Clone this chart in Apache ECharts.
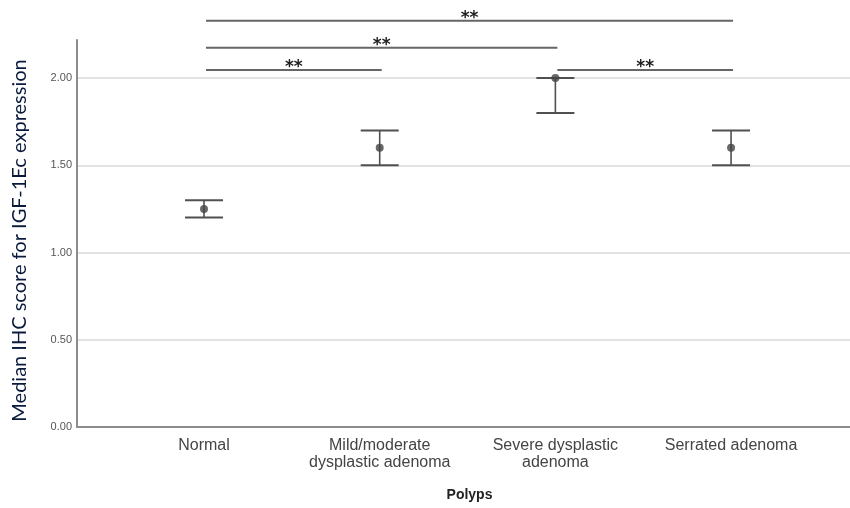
<!DOCTYPE html>
<html>
<head>
<meta charset="utf-8">
<script src="https://cdn.jsdelivr.net/npm/echarts@6/dist/echarts.min.js"></script>
<style>html,body{margin:0;padding:0;background:#fff;}#c{width:850px;height:508px;}</style>
</head>
<body>
<div id="c"></div>
<script>
const categories = ['Normal', 'Mild/moderate\ndysplastic adenoma', 'Severe dysplastic\nadenoma', 'Serrated adenoma'];
const medians = [1.25, 1.60, 2.00, 1.60];
const lower = [1.20, 1.50, 1.80, 1.50];
const upper = [1.30, 1.70, 2.00, 1.70];
const yTicks = [0, 0.5, 1.0, 1.5, 2.0];
// significance comparisons: [from index, to index, bracket height, label]
const compFrom = [0, 0, 0, 2];
const compTo = [3, 2, 1, 3];
const compLevel = [2.328, 2.174, 2.046, 2.046];
const compLabel = ['**', '**', '**', '**'];

const chart = echarts.init(document.getElementById('c'), null, {renderer: 'canvas'});
const errData = categories.map((c, i) => [i, lower[i], upper[i]]);
const ptData = categories.map((c, i) => [i, medians[i]]);
const compData = compFrom.map((f, i) => [f, compTo[i], compLevel[i], compLabel[i]]);

chart.setOption({
  animation: false,
  backgroundColor: '#ffffff',
  grid: {left: 77, right: 0, top: 40, bottom: 81, containLabel: false, outerBoundsMode: 'none'},
  xAxis: {
    type: 'value', min: -0.723, max: 3.677,
    name: 'Polyps', nameLocation: 'middle', nameGap: 61,
    nameTextStyle: {fontFamily: 'Liberation Sans', fontSize: 14, fontWeight: 'bold', color: '#222', padding: [0, 0, 0, 12]},
    axisLine: {show: true, onZero: false, lineStyle: {color: '#8c8c8c', width: 2}},
    axisTick: {show: false},
    splitLine: {show: false},
    axisLabel: {
      customValues: [0, 1, 2, 3],
      formatter: v => categories[Math.round(v)] || '',
      fontFamily: 'Liberation Sans', fontSize: 16, color: '#444', lineHeight: 17, margin: 10,
      verticalAlign: 'top'
    }
  },
  yAxis: {
    type: 'value', min: 0, max: 2.218, interval: 0.5,
    name: 'Median IHC score for IGF-1Ec expression', nameLocation: 'middle', nameGap: 47, nameRotate: 90,
    nameTextStyle: {fontFamily: 'Lato', fontSize: 20, color: '#0a1a3c', padding: [0, 14, 0, 0]},
    axisLine: {show: true, onZero: false, lineStyle: {color: '#8c8c8c', width: 2}},
    axisTick: {show: false},
    splitLine: {show: true, showMinLine: false, showMaxLine: false, lineStyle: {color: '#d9d9d9', width: 1.5}},
    axisLabel: {
      customValues: yTicks,
      formatter: v => v.toFixed(2),
      fontFamily: 'Liberation Sans', fontSize: 11, color: '#555', margin: 5
    }
  },
  series: [
    {
      type: 'custom',
      data: errData,
      clip: false,
      renderItem: function (params, api) {
        const lo = api.coord([api.value(0), api.value(1)]);
        const hi = api.coord([api.value(0), api.value(2)]);
        const hw = 19;
        const st = {stroke: '#505050', lineWidth: 2};
        return {type: 'group', children: [
          {type: 'line', shape: {x1: lo[0], y1: lo[1], x2: hi[0], y2: hi[1]}, style: {stroke: '#505050', lineWidth: 1.6}},
          {type: 'line', shape: {x1: lo[0] - hw, y1: lo[1], x2: lo[0] + hw, y2: lo[1]}, style: st},
          {type: 'line', shape: {x1: hi[0] - hw, y1: hi[1], x2: hi[0] + hw, y2: hi[1]}, style: st}
        ]};
      },
      z: 3
    },
    {
      type: 'scatter',
      data: ptData,
      symbol: 'circle', symbolSize: 8,
      itemStyle: {color: '#444'},
      z: 4
    },
    {
      type: 'custom',
      data: compData,
      clip: false,
      renderItem: function (params, api) {
        const a = api.coord([api.value(0), api.value(2)]);
        const b = api.coord([api.value(1), api.value(2)]);
        return {type: 'group', children: [
          {type: 'line', shape: {x1: a[0] + 2, y1: a[1], x2: b[0] + 2, y2: b[1]}, style: {stroke: '#666', lineWidth: 2}},
          {type: 'text', x: (a[0] + b[0]) / 2 + 2, y: a[1] - 2,
           style: {text: compData[params.dataIndex][3], fontFamily: 'DejaVu Sans', fontSize: 17, fontWeight: 'bold', fill: '#222', align: 'center', verticalAlign: 'middle'}}
        ]};
      },
      z: 5
    }
  ]
});
</script>
</body>
</html>
